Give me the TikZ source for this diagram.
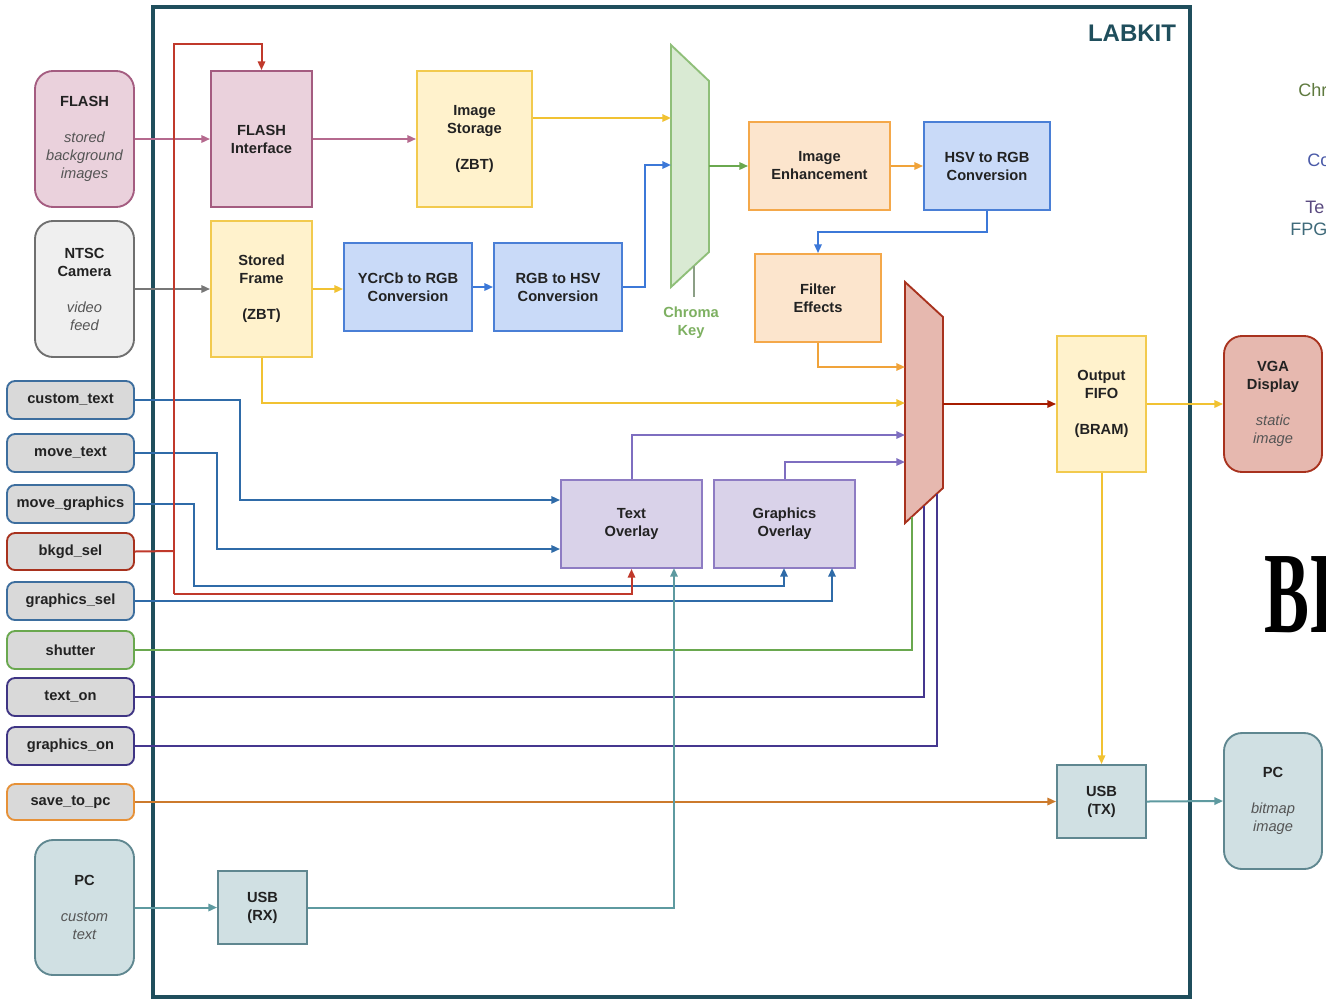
\documentclass[tikz,border=0pt]{standalone}
\usepackage{fontspec}
\setmainfont{Liberation Sans}
\newfontfamily\bigserif{Liberation Serif}
\usetikzlibrary{arrows.meta}
\definecolor{frameC}{HTML}{1F4E5C}
\definecolor{txtC}{HTML}{222222}
\definecolor{itC}{HTML}{555555}
\definecolor{pinkF}{HTML}{EAD1DC}\definecolor{pinkD}{HTML}{A45C80}\definecolor{pinkL}{HTML}{B5698E}
\definecolor{grayF}{HTML}{EFEFEF}\definecolor{grayD}{HTML}{6F6F6F}\definecolor{grayL}{HTML}{777777}
\definecolor{sigF}{HTML}{D9D9D9}
\definecolor{yelF}{HTML}{FFF2CC}\definecolor{yelD}{HTML}{F2CA4E}\definecolor{yelL}{HTML}{F1C232}
\definecolor{bluF}{HTML}{C9DAF8}\definecolor{bluD}{HTML}{4A7FD6}\definecolor{bluL}{HTML}{3C78D8}
\definecolor{sigB}{HTML}{3D6E9E}\definecolor{sigBL}{HTML}{2F6BA8}
\definecolor{oraF}{HTML}{FCE5CD}\definecolor{oraD}{HTML}{F4A84A}\definecolor{oraL}{HTML}{F0A33A}
\definecolor{purF}{HTML}{D9D2E9}\definecolor{purD}{HTML}{8E7CC3}\definecolor{purL}{HTML}{7E6EC0}
\definecolor{purDk}{HTML}{3F3584}\definecolor{purDkL}{HTML}{45378F}
\definecolor{redF}{HTML}{E6B8AF}\definecolor{redD}{HTML}{A8321E}\definecolor{redL}{HTML}{C0392B}\definecolor{redO}{HTML}{A61C00}
\definecolor{grnF}{HTML}{D9EAD3}\definecolor{grnD}{HTML}{8FBF79}\definecolor{grnL}{HTML}{6AA84F}\definecolor{grnT}{HTML}{7DB061}\definecolor{grnG}{HTML}{8C9F86}
\definecolor{savD}{HTML}{E69138}\definecolor{savL}{HTML}{CC7A2C}
\definecolor{tealF}{HTML}{D0E0E3}\definecolor{tealD}{HTML}{5F8790}\definecolor{tealL}{HTML}{5E9AA0}
\newcommand{\ital}[1]{{\mdseries\itshape\color{itC}#1}}
\tikzset{
  rct/.style n args={4}{at={({(#1+#3)/2},{(#2+#4)/2})}, minimum width={(#3-#1)*0.75}, minimum height={(#4-#2)*0.75}},
  base/.style={draw, line width=1.4pt, inner sep=0pt, align=center, anchor=center,
    font=\fontsize{11}{13.5}\selectfont\bfseries, text=txtC},
  ext/.style={base, rounded corners=13.5pt},
  sig/.style={base, rounded corners=6pt, fill=sigF},
  ln/.style={line width=1.5pt},
  arr/.style={ln, -{Triangle[length=6.5pt,width=5.5pt]}},
  mux/.style={line width=1.4pt, line join=miter},
}
\begin{document}
\begin{tikzpicture}[x=0.75pt,y=-0.75pt]
\useasboundingbox[fill=white] (0,0) rectangle (1326,1000);

% frame
\draw[frameC, line width=3pt] (153,7) rectangle (1190,997);
\node[font=\fontsize{18}{20}\selectfont\bfseries, text=frameC] (labkit) at (1132,33) {LABKIT};

% external left
\node[ext, fill=pinkF, draw=pinkD, rct={35}{71}{134}{207}] (flash) {FLASH\\[13.5pt]\ital{stored}\\\ital{background}\\\ital{images}};
\node[ext, fill=grayF, draw=grayD, rct={35}{221}{134}{357}] (ntsc) {NTSC\\Camera\\[13.5pt]\ital{video}\\\ital{feed}};
\node[sig, draw=sigB, rct={7}{381}{134}{419}] (ctext) {custom\_text};
\node[sig, draw=sigB, rct={7}{434}{134}{472}] (mtext) {move\_text};
\node[sig, draw=sigB, rct={7}{485}{134}{523}] (mgfx) {move\_graphics};
\node[sig, draw=redD, rct={7}{533}{134}{570}] (bkgd) {bkgd\_sel};
\node[sig, draw=sigB, rct={7}{582}{134}{620}] (gsel) {graphics\_sel};
\node[sig, draw=grnL, rct={7}{631}{134}{669}] (shut) {shutter};
\node[sig, draw=purDk, rct={7}{678}{134}{716}] (ton) {text\_on};
\node[sig, draw=purDk, rct={7}{727}{134}{765}] (gon) {graphics\_on};
\node[sig, draw=savD, rct={7}{784}{134}{820}] (save) {save\_to\_pc};
\node[ext, fill=tealF, draw=tealD, rct={35}{840}{134}{975}] (pcl) {PC\\[13.5pt]\ital{custom}\\\ital{text}};

% internal blocks
\node[base, fill=pinkF, draw=pinkD, rct={211}{71}{312}{207}] (fi) {FLASH\\Interface};
\node[base, fill=yelF, draw=yelD, rct={417}{71}{532}{207}] (is) {Image\\Storage\\[13.5pt](ZBT)};
\node[base, fill=yelF, draw=yelD, rct={211}{221}{312}{357}] (sf) {Stored\\Frame\\[13.5pt](ZBT)};
\node[base, fill=bluF, draw=bluD, rct={344}{243}{472}{331}] (ycc) {YCrCb to RGB\\Conversion};
\node[base, fill=bluF, draw=bluD, rct={494}{243}{622}{331}] (r2h) {RGB to HSV\\Conversion};
\node[base, fill=oraF, draw=oraD, rct={749}{122}{890}{210}] (ie) {Image\\Enhancement};
\node[base, fill=bluF, draw=bluD, rct={924}{122}{1050}{210}] (h2r) {HSV to RGB\\Conversion};
\node[base, fill=oraF, draw=oraD, rct={755}{254}{881}{342}] (fe) {Filter\\Effects};
\node[base, fill=yelF, draw=yelD, rct={1057}{336}{1146}{472}] (fifo) {Output\\FIFO\\[13.5pt](BRAM)};
\node[base, fill=purF, draw=purD, rct={561}{480}{702}{568}] (tov) {Text\\Overlay};
\node[base, fill=purF, draw=purD, rct={714}{480}{855}{568}] (gov) {Graphics\\Overlay};
\node[base, fill=tealF, draw=tealD, rct={1057}{765}{1146}{838}] (utx) {USB\\(TX)};
\node[base, fill=tealF, draw=tealD, rct={218}{871}{307}{944}] (urx) {USB\\(RX)};

% external right
\node[ext, fill=redF, draw=redD, rct={1224}{336}{1322}{472}] (vga) {VGA\\Display\\[13.5pt]\ital{static}\\\ital{image}};
\node[ext, fill=tealF, draw=tealD, rct={1224}{733}{1322}{869}] (pcr) {PC\\[13.5pt]\ital{bitmap}\\\ital{image}};

% chroma key mux
\draw[mux, fill=grnF, draw=grnD] (671,45) -- (709,81) -- (709,252) -- (671,287) -- cycle;
\coordinate (c1) at (671,118);
\coordinate (c2) at (671,165);
\coordinate (cout) at (709,166);
\coordinate (cbot) at (694,266);
\coordinate (cbt) at (694,297);
\node[font=\fontsize{11}{13.5}\selectfont\bfseries, text=grnT, align=center] (ckey) at (691,323) {Chroma\\Key};

% output mux
\draw[mux, fill=redF, draw=redD] (905,282) -- (943,317) -- (943,488) -- (905,523) -- cycle;
\coordinate (m1) at (905,367);
\coordinate (m2) at (905,403);
\coordinate (m3) at (905,435);
\coordinate (m4) at (905,462);
\coordinate (mout) at (943,404);
\coordinate (mb1) at (912,516.5);
\coordinate (mb2) at (924,505.5);
\coordinate (mb3) at (937,493.5);

% bend points
\coordinate (bk1) at (174,551);
\coordinate (bk2) at (174,44);
\coordinate (bk3) at (174,594);
\coordinate (rb) at (645,287);
\coordinate (hb) at (987,232);
\coordinate (ct1) at (240,400);
\coordinate (ct2) at (240,500);
\coordinate (mt1) at (217,453);
\coordinate (mt2) at (217,549);
\coordinate (mg1) at (194,504);
\coordinate (mg2) at (194,586);
\coordinate (gx1) at (784,568);
\coordinate (gx2) at (832,568);
\coordinate (ux) at (674,568);

% top connectors
\draw[arr, pinkL] (flash.east) -- (fi.west);
\draw[arr, pinkL] (fi.east) -- (is.west);
\draw[arr, grayL] (ntsc.east) -- (sf.west);
\draw[arr, yelL] (sf.east) -- (sf.east -| ycc.west);
\draw[arr, bluL] (ycc.east) -- (r2h.west);
\draw[arr, bluL] (r2h.east) -- (rb) |- (c2);
\draw[arr, yelL] (is.east |- c1) -- (c1);
\draw[arr, grnL] (cout) -- (ie.west);
\draw[ln, grnG] (cbot) -- (cbt);
\draw[arr, oraL] (ie.east) -- (h2r.west);
\draw[arr, bluL] (h2r.south) -- (hb) -| (fe.north);
\draw[arr, oraL] (fe.south) |- (m1);
\draw[arr, yelL] (sf.south) |- (m2);
\draw[arr, purL] (tov.north) |- (m3);
\draw[arr, purL] (gov.north) |- (m4);
\draw[arr, redO] (mout) -- (fifo.west);
\draw[arr, yelL] (fifo.east) -- (vga.west);
\draw[arr, yelL] (fifo.south) -- (utx.north);
\draw[arr, tealL] (utx.east) -- (pcr.west);

% control signals
\draw[arr, sigBL] (ctext.east) -- (ct1) -- (ct2) -- (ct2 -| tov.west);
\draw[arr, sigBL] (mtext.east) -- (mt1) -- (mt2) -- (mt2 -| tov.west);
\draw[arr, sigBL] (mgfx.east) -- (mg1) -- (mg2) -| (gx1);
\draw[ln, redL] (bkgd.east) -- (bk1);
\draw[arr, redL] (bk3) -- (bk2) -| (fi.north);
\draw[arr, redL] (bk3) -| (tov.south);
\draw[arr, sigBL] (gsel.east) -| (gx2);
\draw[ln, grnL] (shut.east) -| (mb1);
\draw[ln, purDkL] (ton.east) -| (mb2);
\draw[ln, purDkL] (gon.east) -| (mb3);
\draw[arr, savL] (save.east |- utx.west) -- (utx.west);
\draw[arr, tealL] (pcl.east) -- (urx.west);
\draw[arr, tealL] (urx.east) -| (ux);

% cut-off texts at the right edge
\begin{scope}
\clip (1190,0) rectangle (1326,1000);
\node[anchor=base west, inner sep=0pt, font=\fontsize{13.5}{16}\selectfont, text={rgb,255:red,95;green,122;blue,63}] (t1) at (1298,96) {Chr};
\node[anchor=base west, inner sep=0pt, font=\fontsize{13.5}{16}\selectfont, text={rgb,255:red,74;green,90;blue,168}] (t2) at (1307,166) {Co};
\node[anchor=base west, inner sep=0pt, font=\fontsize{13.5}{16}\selectfont, text={rgb,255:red,90;green,74;blue,128}] (t3) at (1305,213) {Te};
\node[anchor=base west, inner sep=0pt, font=\fontsize{13.5}{16}\selectfont, text={rgb,255:red,63;green,106;blue,122}] (t4) at (1290,235) {FPG};
\node[anchor=base west, inner sep=0pt, font=\bigserif\bfseries\fontsize{87}{90}\selectfont, text=black] (t5) at (1264,632) {\scalebox{0.58}[1]{BI}};
\end{scope}
\end{tikzpicture}
\end{document}
